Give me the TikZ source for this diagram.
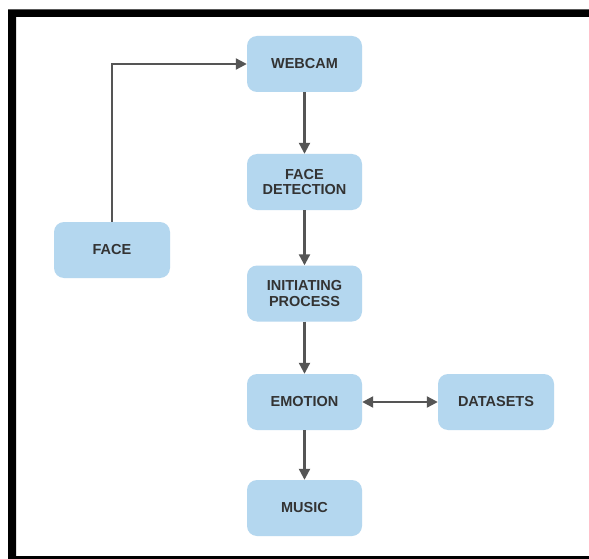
\documentclass[tikz,border=0pt]{standalone}
\usepackage{fontspec}
\setmainfont{Liberation Sans}
\usetikzlibrary{arrows.meta}
\definecolor{boxfill}{HTML}{B4D7EF}
\definecolor{txt}{HTML}{333333}
\definecolor{conn}{HTML}{555555}
\tikzset{
  stepbox/.style={draw=none, fill=boxfill, rounded corners=10pt, minimum width=115pt, minimum height=56pt,
    align=center, text=txt, font=\bfseries\fontsize{14.5}{15.5}\selectfont, inner sep=0pt},
  conn/.style={draw=conn, line width=2.2pt, -{Triangle[length=11pt,width=11pt]}},
  bconn/.style={draw=conn, line width=2.2pt, {Triangle[length=11pt,width=11pt]}-{Triangle[length=11pt,width=11pt]}}
}
\begin{document}
\begin{tikzpicture}[x=1pt,y=-1pt]
\useasboundingbox (0,0) rectangle (589,559);
\fill[white] (0,0) rectangle (589,559);
\fill[black,even odd rule] (8,9.5) rectangle (589,559) (16,17) rectangle (589,556);
\node[stepbox] (webcam) at (304.5,64) {WEBCAM};
\node[stepbox] (detect) at (304.5,182) {FACE\\DETECTION};
\node[stepbox] (init) at (304.5,293.5) {INITIATING\\PROCESS};
\node[stepbox] (emotion) at (304.5,402) {EMOTION};
\node[stepbox] (music) at (304.5,508) {MUSIC};
\node[stepbox, minimum width=116pt] (data) at (496,402) {DATASETS};
\node[stepbox, minimum width=116pt] (face) at (112,250) {FACE};
\draw[conn] (face.north) |- (webcam.west);
\draw[conn] (webcam) -- (detect);
\draw[conn] (detect) -- (init);
\draw[conn] (init) -- (emotion);
\draw[conn] (emotion) -- (music);
\draw[bconn] (emotion) -- (data);
\end{tikzpicture}
\end{document}
